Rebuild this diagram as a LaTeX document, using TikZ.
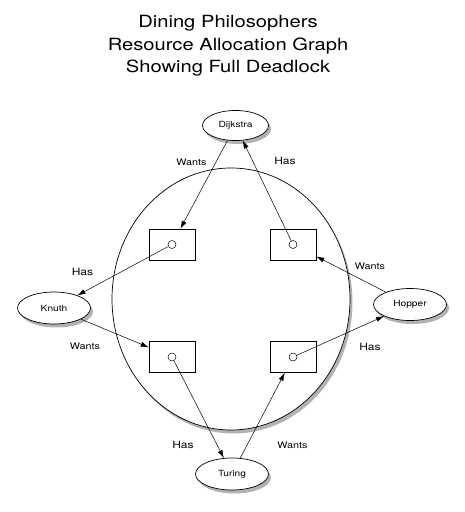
\documentclass[tikz,border=0pt]{standalone}
\usepackage{fontspec}
\setmainfont[FakeStretch=1.2]{TeX Gyre Heros}
\usepackage{tikz}
\usetikzlibrary{shapes.geometric,shadows,arrows.meta}
\tikzset{
    soft-shadow/.style = {drop shadow={shadow xshift=2.5pt, shadow yshift=-3.5pt, fill=black!60, opacity=0.5}},
    table-ellipse/.style = {draw, ellipse, fill=white, line width=0.7pt, minimum width=238pt, minimum height=262pt, soft-shadow},
    philosopher/.style = {draw, ellipse, fill=white, line width=0.7pt, minimum width=73pt, minimum height=32pt, inner sep=0pt, font=\fontsize{8.5}{10}\selectfont, soft-shadow},
    fork-box/.style = {draw, rectangle, line width=0.5pt, minimum width=46pt, minimum height=31pt, inner sep=0pt},
    fork-dot/.style = {draw, circle, fill=white, line width=0.5pt, minimum size=8pt, inner sep=0pt},
    has-label/.style = {font=\fontsize{10}{12}\selectfont},
    wants-label/.style = {font=\fontsize{9}{11}\selectfont},
    graph-arrow/.style = {-{Latex[length=8pt,width=5pt]}, line width=0.5pt},
}

\begin{document}
\begin{tikzpicture}[x=1pt, y=-1pt]
\useasboundingbox (0,0) rectangle (464,512);
\node [align=center, font=\fontsize{16.8}{22.5}\selectfont] (title) at (228,46) {Dining Philosophers\\Resource Allocation Graph\\Showing Full Deadlock};

\node [table-ellipse] (table) at (231,299) {};

\node [fork-box] (box-tl) at (172,244.5) {};
\node [fork-box] (box-tr) at (293,244.5) {};
\node [fork-box] (box-bl) at (172,357) {};
\node [fork-box] (box-br) at (293,357) {};
\node [fork-dot] (dot-tl) at (box-tl) {};
\node [fork-dot] (dot-tr) at (box-tr) {};
\node [fork-dot] (dot-bl) at (box-bl) {};
\node [fork-dot] (dot-br) at (box-br) {};

\node [philosopher, minimum width=66pt, minimum height=30pt] (dijkstra) at (235.5,125.5) {Dijkstra};
\node [philosopher] (knuth) at (54,308) {Knuth};
\node [philosopher] (hopper) at (410,304.5) {Hopper};
\node [philosopher] (turing) at (232,474) {Turing};

\draw [graph-arrow] (dijkstra) -- (box-tl);
\draw [graph-arrow] (dot-tr) -- (dijkstra);
\draw [graph-arrow] (dot-tl) -- (knuth);
\draw [graph-arrow] (knuth) -- (box-bl);
\draw [graph-arrow] (dot-bl) -- (turing);
\draw [graph-arrow] (turing) -- (box-br);
\draw [graph-arrow] (dot-br) -- (hopper);
\draw [graph-arrow] (hopper) -- (box-tr);

\node [wants-label] (wants-dijkstra) at (191.5,162) {Wants};
\node [has-label] (has-dijkstra) at (285,160.5) {Has};
\node [has-label] (has-knuth) at (82.5,272) {Has};
\node [wants-label] (wants-knuth) at (85,346) {Wants};
\node [has-label] (has-turing) at (183,445) {Has};
\node [wants-label] (wants-turing) at (292.5,445) {Wants};
\node [has-label] (has-hopper) at (370,347) {Has};
\node [wants-label] (wants-hopper) at (370,266) {Wants};
\end{tikzpicture}
\end{document}
